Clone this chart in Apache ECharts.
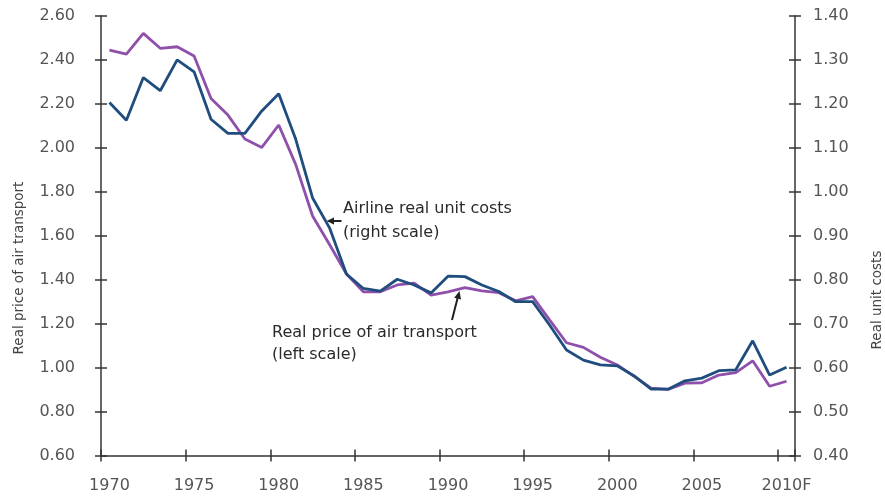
<!DOCTYPE html>
<html><head><meta charset="utf-8">
<script src="https://cdn.jsdelivr.net/npm/echarts@6/dist/echarts.min.js"></script>
<style>html,body{margin:0;padding:0;background:#fff}#c{width:885px;height:496px}</style>
</head><body><div id="c"></div>
<script>
// Category labels (years)
const years = ['1970','1971','1972','1973','1974','1975','1976','1977','1978','1979',
  '1980','1981','1982','1983','1984','1985','1986','1987','1988','1989',
  '1990','1991','1992','1993','1994','1995','1996','1997','1998','1999',
  '2000','2001','2002','2003','2004','2005','2006','2007','2008','2009','2010F'];

// Real price of air transport (left scale)
const priceLeft = [2.445,2.427,2.521,2.453,2.460,2.418,2.225,2.149,2.040,2.002,
  2.104,1.925,1.690,1.560,1.426,1.345,1.345,1.376,1.384,1.330,
  1.345,1.364,1.349,1.341,1.304,1.323,1.217,1.113,1.092,1.047,
  1.012,0.960,0.907,0.901,0.929,0.931,0.966,0.977,1.031,0.915,0.938];

// Airline real unit costs (right scale)
const costsRight = [1.203,1.163,1.260,1.230,1.300,1.273,1.165,1.133,1.133,1.184,
  1.223,1.120,0.986,0.918,0.813,0.780,0.774,0.801,0.788,0.770,
  0.808,0.807,0.788,0.773,0.750,0.750,0.697,0.640,0.617,0.606,
  0.604,0.581,0.551,0.551,0.570,0.576,0.593,0.595,0.661,0.583,0.601];

const leftScale = {min: 0.6, max: 2.6, interval: 0.2};
const rightScale = {min: 0.4, max: 1.4, interval: 0.1};
const labelEvery = 5;

const FONT = '"DejaVu Sans", sans-serif';
const AXIS_COLOR = '#333';
const LABEL_COLOR = '#555';

const chart = echarts.init(document.getElementById('c'), null, {renderer: 'canvas'});

function yAx(pos, sc, inside, margin) {
  return {
    type: 'value', position: pos, min: sc.min, max: sc.max, interval: sc.interval,
    axisLine: {show: !inside, lineStyle: {color: AXIS_COLOR, width: 1.5}},
    axisTick: {show: true, inside: inside, length: 6, lineStyle: {color: AXIS_COLOR, width: 1.5}},
    axisLabel: inside ? {show: false} : {
      show: true, margin: margin, fontFamily: FONT, fontSize: 16, color: LABEL_COLOR,
      formatter: v => v.toFixed(2)
    },
    splitLine: {show: false}
  };
}
function xAx(inside) {
  return {
    type: 'category', data: years, boundaryGap: true, position: 'bottom',
    axisLine: {show: !inside, lineStyle: {color: AXIS_COLOR, width: 1.5}},
    axisTick: {show: true, inside: inside, length: 6, interval: labelEvery - 1,
      lineStyle: {color: AXIS_COLOR, width: 1.5}},
    axisLabel: inside ? {show: false} : {
      show: true, interval: labelEvery - 1, margin: 22, fontFamily: FONT, fontSize: 16, color: LABEL_COLOR
    },
    splitLine: {show: false}
  };
}

const txt = (t, x, y, size, extra) => Object.assign({
  type: 'text', x: x, y: y,
  style: {text: t, fill: '#2a2a2a', font: size + 'px ' + FONT, verticalAlign: 'middle', align: 'left'}
}, extra || {});

chart.setOption({
  animation: false,
  grid: {left: 101, right: 90, top: 16, bottom: 40.5, containLabel: false, outerBoundsMode: 'none'},
  xAxis: [xAx(false), xAx(true)],
  yAxis: [yAx('left', leftScale, false, 26), yAx('right', rightScale, false, 18),
          yAx('left', leftScale, true, 0), yAx('right', rightScale, true, 0)],
  series: [
    {name: 'Real price of air transport', type: 'line', xAxisIndex: 0, yAxisIndex: 0,
     data: priceLeft, showSymbol: false, lineStyle: {color: '#8e50aa', width: 2.8}, itemStyle: {color: '#8e50aa'}, z: 2},
    {name: 'Airline real unit costs', type: 'line', xAxisIndex: 0, yAxisIndex: 1,
     data: costsRight, showSymbol: false, lineStyle: {color: '#1f4e7e', width: 2.8}, itemStyle: {color: '#1f4e7e'}, z: 3}
  ],
  graphic: [
    {type: 'text', x: 19, y: 268, rotation: Math.PI / 2,
     style: {text: 'Real price of air transport', fill: '#444', font: '13.5px ' + FONT, align: 'center', verticalAlign: 'middle'}},
    {type: 'text', x: 877, y: 300, rotation: Math.PI / 2,
     style: {text: 'Real unit costs', fill: '#444', font: '13.5px ' + FONT, align: 'center', verticalAlign: 'middle'}},
    txt('Airline real unit costs', 343, 209, 16),
    txt('(right scale)', 343, 233, 16),
    txt('Real price of air transport', 272, 332.5, 16),
    txt('(left scale)', 272, 355, 16),
    {type: 'polyline', shape: {points: [[341.5, 221], [332, 221]]}, style: {stroke: '#222', lineWidth: 2}},
    {type: 'polygon', shape: {points: [[326.5, 221], [334, 217.5], [334, 224.5]]}, style: {fill: '#222'}},
    {type: 'polyline', shape: {points: [[452, 320], [457.6, 298]]}, style: {stroke: '#222', lineWidth: 2}},
    {type: 'polygon', shape: {points: [[459.5, 291], [461, 299.6], [454.2, 297.8]]}, style: {fill: '#222'}}
  ]
});
</script>
</body></html>
